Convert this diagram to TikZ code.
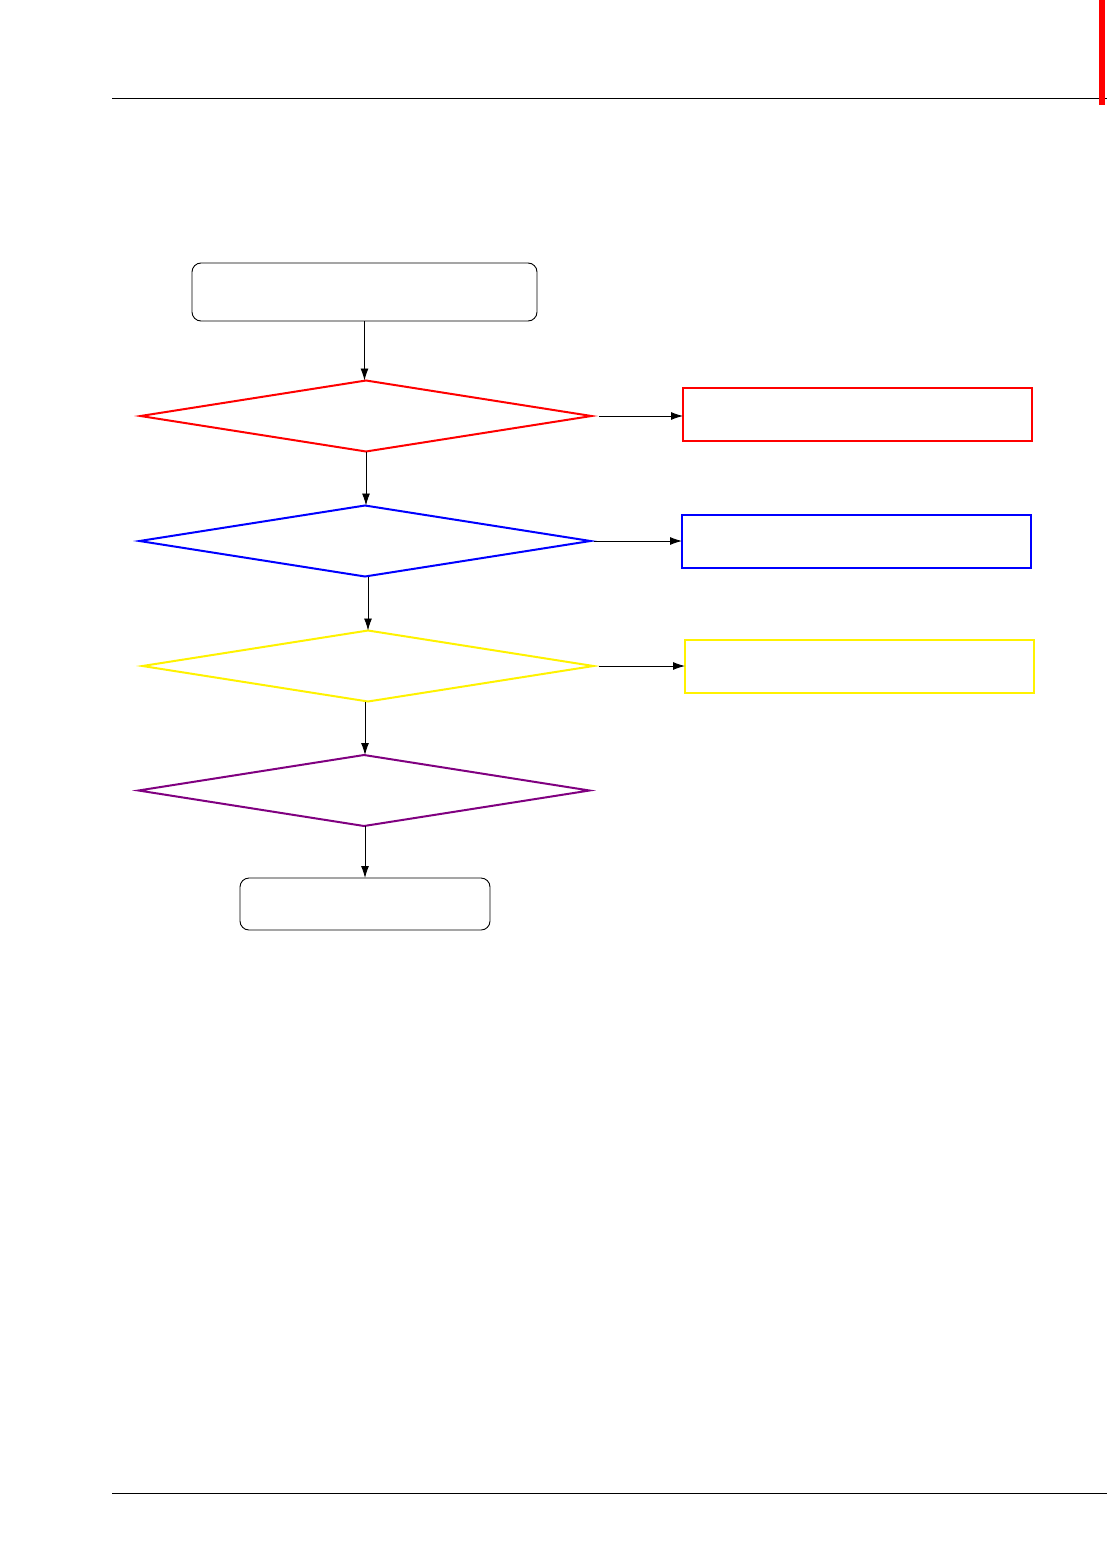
\documentclass[tikz,border=0pt]{standalone}
\usetikzlibrary{arrows.meta,shapes.geometric}

\definecolor{chkpurple}{RGB}{128,0,128}

\begin{document}
\begin{tikzpicture}[x=1pt,y=-1pt,
  decision/.style={diamond, draw, line width=2pt, inner sep=0pt, outer sep=0pt,
    minimum width=451pt, minimum height=71pt},
  sidebox/.style={rectangle, draw, line width=2.4pt, inner sep=0pt, outer sep=0pt,
    minimum width=349pt, minimum height=53pt},
  terminal/.style={rectangle, draw, rounded corners=9pt, line width=0.9pt, inner sep=0pt, outer sep=0pt},
  flow/.style={-{Latex[length=12pt,width=8pt]}, line width=0.9pt}]
  \useasboundingbox (0,0) rectangle (1107,1554);
  % page rules
  \draw[line width=1pt] (112,99) -- (1107,99);
  \draw[line width=1pt] (112,1493) -- (1107,1493);
  \fill[red] (1099,0) rectangle (1105,105);

  \node[terminal, minimum width=345pt, minimum height=58pt] (start) at (364.5,292) {};
  \node[decision, red] (chkA) at (366,416) {};
  \node[decision, blue] (chkB) at (365,541) {};
  \node[decision, yellow] (chkC) at (368,666) {};
  \node[decision, chkpurple] (chkD) at (364,790.5) {};
  \node[terminal, minimum width=250pt, minimum height=52pt] (stop) at (365,904) {};

  \node[sidebox, red] (fixA) at (857.5,414.5) {};
  \node[sidebox, blue] (fixB) at (856.5,541.5) {};
  \node[sidebox, yellow] (fixC) at (859.5,666.5) {};

  % main line
  \draw[flow] (start.south) -- (start.south |- chkA.north);
  \draw[flow] (chkA.south) -- (chkA.south |- chkB.north);
  \draw[flow] ([xshift=3pt]chkB.south) -- ([xshift=3pt]chkB.south |- chkC.north);
  \draw[flow] ([xshift=-3pt]chkC.south) -- ([xshift=-3pt]chkC.south |- chkD.north);
  \draw[flow] ([xshift=1pt]chkD.south) -- ([xshift=1pt]chkD.south |- stop.north);

  % branches
  \draw[flow, shorten <=7pt] (chkA.east) -- (fixA.west |- chkA.east);
  \draw[flow, shorten <=3pt] (chkB.east) -- (fixB.west |- chkB.east);
  \draw[flow, shorten <=5pt] (chkC.east) -- (fixC.west |- chkC.east);
\end{tikzpicture}
\end{document}
